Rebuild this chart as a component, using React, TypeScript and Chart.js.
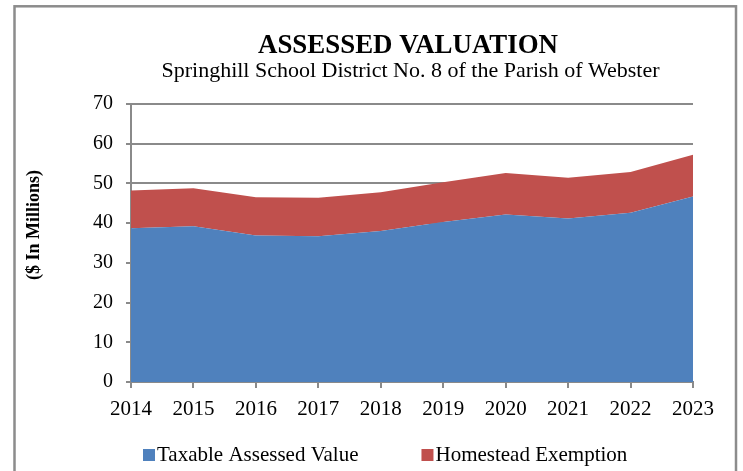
import React, { useEffect, useRef } from "react";
import { Chart, registerables } from "chart.js";

Chart.register(...registerables);

const years = ["2014", "2015", "2016", "2017", "2018", "2019", "2020", "2021", "2022", "2023"];
const taxableValue = [38.7, 39.2, 36.9, 36.7, 38.0, 40.3, 42.2, 41.2, 42.6, 46.7];
const homesteadExemption = [9.5, 9.6, 9.6, 9.7, 9.8, 10.0, 10.4, 10.2, 10.3, 10.5];
const yTicks = [0, 10, 20, 30, 40, 50, 60, 70];
const seriesNames = ["Taxable Assessed Value", "Homestead Exemption"];
const seriesColors = ["#4F81BD", "#C0504D"];
const titleText = "ASSESSED VALUATION";
const subtitleText = "Springhill School District No. 8 of the Parish of Webster";
const yAxisTitle = "($ In Millions)";

const FONT = '"Liberation Serif", "Times New Roman", serif';
const GRID = "#8a8a8a";

const decorPlugin = {
  id: "decor",
  beforeDraw(chart: any) {
    const ctx = chart.ctx;
    ctx.save();
    ctx.strokeStyle = "#8c8c8c";
    ctx.lineWidth = 2.5;
    ctx.strokeRect(14.5, 6.3, 721.5, 700);
    ctx.restore();
  },
  afterDraw(chart: any) {
    const ctx = chart.ctx;
    ctx.save();
    ctx.fillStyle = "#000";
    // title
    ctx.save();
    ctx.translate(408, 53);
    ctx.scale(0.96, 1);
    ctx.font = `bold 28px ${FONT}`;
    ctx.textAlign = "center";
    ctx.textBaseline = "alphabetic";
    ctx.fillText(titleText, 0, 0);
    ctx.restore();
    // subtitle
    ctx.font = `22px ${FONT}`;
    ctx.textAlign = "center";
    ctx.textBaseline = "alphabetic";
    ctx.fillText(subtitleText, 410.5, 77);
    // y axis title
    ctx.save();
    ctx.translate(34, 225);
    ctx.rotate(-Math.PI / 2);
    ctx.font = `bold 18px ${FONT}`;
    ctx.textAlign = "center";
    ctx.textBaseline = "middle";
    ctx.fillText(yAxisTitle, 0, 0);
    ctx.restore();
    // legend
    ctx.font = `21px ${FONT}`;
    ctx.textAlign = "left";
    ctx.textBaseline = "middle";
    let x = 143;
    const cy = 455;
    seriesNames.forEach((name, i) => {
      ctx.fillStyle = seriesColors[i];
      ctx.fillRect(x, cy - 6, 12, 12);
      ctx.fillStyle = "#000";
      ctx.fillText(name, x + 14, cy);
      x += 14 + ctx.measureText(name).width + 63;
    });
    ctx.restore();
  },
};

export default function App() {
  const ref = useRef<HTMLCanvasElement | null>(null);
  useEffect(() => {
    document.body.style.margin = "0";
    const canvas = ref.current;
    if (!canvas) return;
    const chart = new Chart(canvas, {
      type: "line",
      data: {
        labels: years,
        datasets: [
          {
            label: seriesNames[0],
            data: taxableValue,
            backgroundColor: seriesColors[0],
            borderColor: seriesColors[0],
            borderWidth: 0,
            pointRadius: 0,
            fill: "origin",
            tension: 0,
          },
          {
            label: seriesNames[1],
            data: homesteadExemption,
            backgroundColor: seriesColors[1],
            borderColor: seriesColors[1],
            borderWidth: 0,
            pointRadius: 0,
            fill: "-1",
            tension: 0,
          },
        ],
      },
      options: {
        responsive: false,
        animation: false,
        layout: { padding: { left: 0, right: 50, top: 104, bottom: 49 } },
        plugins: {
          legend: { display: false },
          title: { display: false },
          tooltip: { enabled: false },
        },
        scales: {
          x: {
            type: "category",
            offset: false,
            grid: { drawOnChartArea: false, drawTicks: true, tickLength: 6, color: GRID, lineWidth: 2 },
            border: { color: GRID, width: 2 },
            ticks: { color: "#000", font: { family: FONT, size: 21 }, padding: 9, maxRotation: 0, autoSkip: false },
            afterFit: (s: any) => {
              s.height = 40;
            },
          },
          y: {
            stacked: true,
            min: 0,
            max: 70,
            grid: { color: GRID, lineWidth: 2, tickLength: 5 },
            border: { color: GRID, width: 2 },
            ticks: { color: "#000", font: { family: FONT, size: 20 }, padding: 13, stepSize: 10 },
            afterBuildTicks: (s: any) => {
              s.ticks = yTicks.map((v) => ({ value: v }));
            },
            afterFit: (s: any) => {
              s.width = 131;
            },
          },
        },
      },
      plugins: [decorPlugin],
    } as any);
    return () => chart.destroy();
  }, []);
  return (
    <div style={{ width: 743, height: 471, overflow: "hidden" }}>
      <canvas ref={ref} width={743} height={471} style={{ display: "block" }} />
    </div>
  );
}
